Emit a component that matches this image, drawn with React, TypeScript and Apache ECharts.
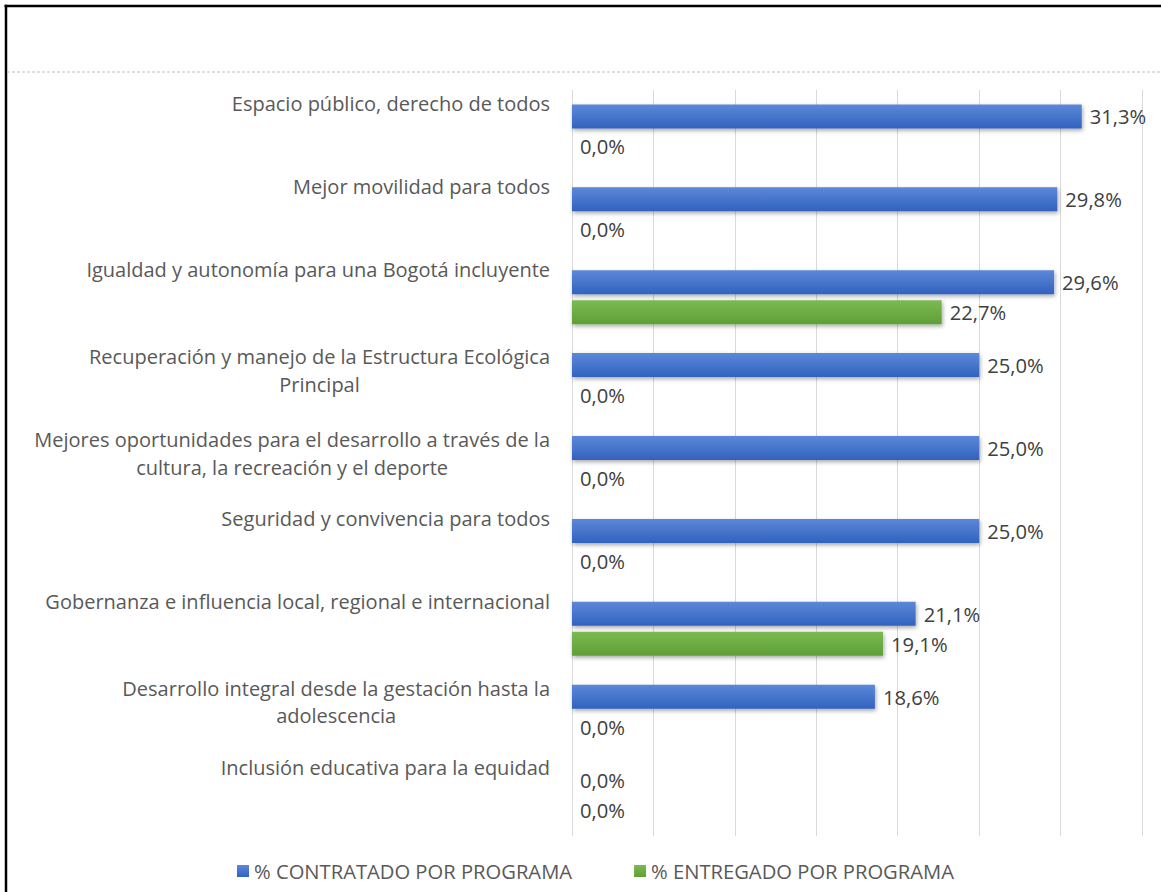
import React, { useEffect, useRef } from "react";
import * as echarts from "echarts";

const categories: string[] = [
  "Espacio público, derecho de todos",
  "Mejor movilidad para todos",
  "Igualdad y autonomía para una Bogotá incluyente",
  "Recuperación y manejo de la Estructura Ecológica\nPrincipal",
  "Mejores oportunidades para el desarrollo a través de la\ncultura, la recreación y el deporte",
  "Seguridad y convivencia para todos",
  "Gobernanza e influencia local, regional e internacional",
  "Desarrollo integral desde la gestación hasta la\nadolescencia",
  "Inclusión educativa para la equidad",
];

const contratado: number[] = [31.3, 29.8, 29.6, 25.0, 25.0, 25.0, 21.1, 18.6, 0.0];
const entregado: number[] = [0.0, 0.0, 22.7, 0.0, 0.0, 0.0, 19.1, 0.0, 0.0];

const seriesNames: string[] = ["% CONTRATADO POR PROGRAMA", "% ENTREGADO POR PROGRAMA"];

const FONT = "Open Sans";
const FS = 20.2;
const LABEL_FS = 20;

function fmt(v: number): string {
  return v.toFixed(1).replace(".", ",") + "%";
}

export default function App() {
  const ref = useRef<HTMLDivElement>(null);

  useEffect(() => {
    if (!ref.current) return;
    const chart = echarts.init(ref.current, undefined, { renderer: "svg" });

    const blueGrad = new echarts.graphic.LinearGradient(0, 0, 0, 1, [
      { offset: 0, color: "#5c88d8" },
      { offset: 1, color: "#3162bf" },
    ]);
    const greenGrad = new echarts.graphic.LinearGradient(0, 0, 0, 1, [
      { offset: 0, color: "#7cba52" },
      { offset: 1, color: "#5f9f36" },
    ]);

    const barStyle = (c: any) => ({
      color: c,
      shadowColor: "rgba(0,0,0,0.35)",
      shadowBlur: 4,
      shadowOffsetX: 1,
      shadowOffsetY: 2,
    });

    const labelCfg = {
      show: true,
      position: "right",
      distance: 8,
      fontFamily: FONT,
      fontSize: FS,
      color: "#404040",
      formatter: (p: any) => fmt(p.value),
    };

    chart.setOption({
      animation: false,
      textStyle: { fontFamily: FONT },
      graphic: [
        {
          type: "line",
          shape: { x1: 4.5, y1: 6, x2: 1161, y2: 6 },
          style: { stroke: "#000000", lineWidth: 2.5 },
        },
        {
          type: "line",
          shape: { x1: 6, y1: 4.8, x2: 6, y2: 892 },
          style: { stroke: "#000000", lineWidth: 2.5 },
        },
        {
          type: "line",
          shape: { x1: 7, y1: 72, x2: 1161, y2: 72 },
          style: { stroke: "#bfbfbf", lineWidth: 1, lineDash: [3, 2] },
        },
      ],
      legend: {
        data: seriesNames,
        left: 232,
        top: 856,
        icon: "rect",
        itemWidth: 12,
        itemHeight: 12,
        itemGap: 62,
        textStyle: { fontFamily: FONT, fontSize: FS, color: "#595959" },
      },
      grid: { left: 572, right: 19, top: 90, bottom: 56, containLabel: false },
      xAxis: {
        type: "value",
        min: 0,
        max: 35,
        interval: 5,
        axisLabel: { show: false },
        axisLine: { show: false },
        axisTick: { show: false },
        splitLine: { show: true, lineStyle: { color: "#d9d9d9", width: 1 } },
      },
      yAxis: {
        type: "category",
        inverse: true,
        data: categories,
        axisLine: { show: false },
        axisTick: { show: false },
        axisLabel: {
          interval: 0,
          hideOverlap: false,
          margin: 22,
          fontFamily: FONT,
          fontSize: LABEL_FS,
          color: "#595959",
          lineHeight: 27.5,
          formatter: (v: string) => {
            const lines = v.split("\n");
            const parts = lines.map((l) => "{c|" + l + "}");
            if (lines.length === 1) {
              parts.push("{b| }", "{b| }");
            } else {
              parts.push("{d| }");
            }
            return parts.join("\n");
          },
          rich: {
            c: {
              align: "center",
              fontFamily: FONT,
              fontSize: LABEL_FS,
              color: "#595959",
              lineHeight: 27.5,
            },
            b: { fontSize: 10, lineHeight: 27.5 },
            d: { fontSize: 10, lineHeight: 19.5 },
          },
        },
      },
      series: [
        {
          name: seriesNames[0],
          type: "bar",
          data: contratado,
          barWidth: 24,
          barGap: "25%",
          itemStyle: barStyle(blueGrad),
          label: labelCfg,
        },
        {
          name: seriesNames[1],
          type: "bar",
          data: entregado,
          barWidth: 24,
          itemStyle: barStyle(greenGrad),
          label: labelCfg,
        },
      ],
    });

    return () => chart.dispose();
  }, []);

  return (
    <div
      ref={ref}
      style={{ position: "absolute", left: 0, top: 0, width: 1161, height: 892, background: "#ffffff" }}
    />
  );
}
